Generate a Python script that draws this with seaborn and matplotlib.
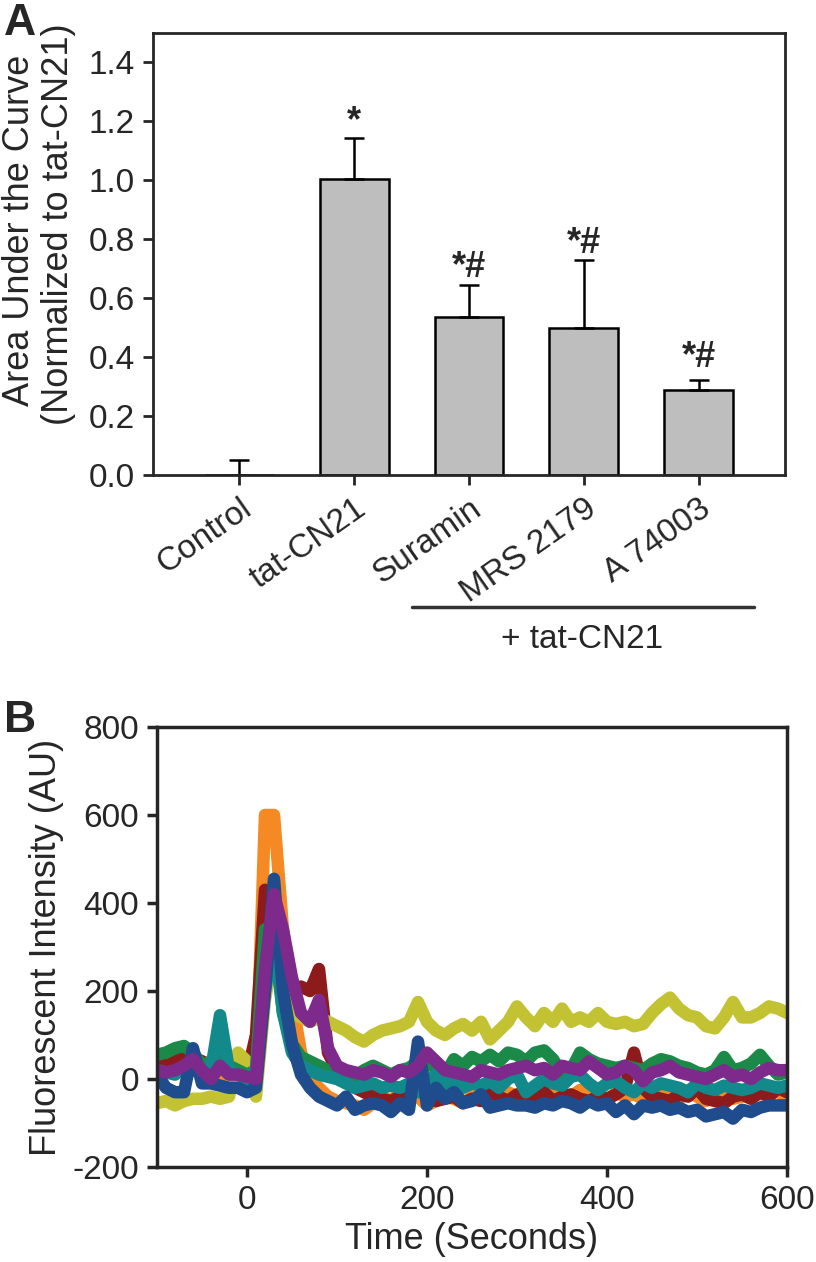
import numpy as np
import pandas as pd
import matplotlib
matplotlib.use('Agg')
import matplotlib.pyplot as plt
import seaborn as sns

# ---- Panel A data ----
categories = ['Control', 'tat-CN21', 'Suramin', 'MRS 2179', 'A 74003']
auc_mean = [0.0, 1.005, 0.536, 0.498, 0.289]
auc_err = [0.052, 0.138, 0.108, 0.232, 0.034]
auc_marks = ['', '*', '*#', '*#', '*#']
auc_mark_y = [0, 1.20, 0.705, 0.785, 0.40]

# ---- Panel B data ----
time_s = list(range(-100, 610, 10))
trace_orange = [30, 20, 30, 20, 30, 40, 20, 10, 0, -10, -20, 0, 600, 600, 340, 180, 60, 0, -20, -40,
                -50, -55, -60, -70, -55, -40, -50, -30, -45, -40, -60, -50, -40, -45, -55, -40, -20, -35, -40, -30,
                -40, -25, -40, -10, -30, -45, -40, -25, -40, -35, -50, -30, -40, -35, -45, -40, -30, -35, -45, -25,
                -40, -50, -35, -30, -45, -40, -30, -35, -25, -30, -40]
trace_red = [40, 30, 40, 60, 50, 40, 30, 50, 40, 20, 10, 100, 430, 380, 280, 200, 210, 200, 250, 60,
             20, 0, -20, -30, -40, -45, -50, -40, -30, -20, -40, -50, -45, -40, -55, -45, -50, -30, -40, -50,
             -35, -40, -45, -30, -50, -40, -35, -45, -50, -40, -45, -35, -20, 60, -20, -40, -45, -50, -35, -40,
             -20, -45, -50, -55, -40, -35, -45, -30, -40, -20, -30]
trace_yellow = [-55, -50, -60, -50, -45, -45, -40, -45, -40, 60, 40, -40, 180, 300, 200, 150, 140, 130, 140, 130,
                120, 110, 95, 85, 100, 110, 115, 120, 130, 175, 130, 110, 100, 115, 125, 110, 130, 90, 110, 130,
                165, 140, 120, 150, 130, 160, 130, 140, 130, 150, 130, 125, 130, 120, 125, 150, 170, 185, 160, 145,
                140, 120, 115, 140, 175, 140, 140, 150, 165, 160, 150]
trace_green = [55, 60, 70, 75, 60, 30, 40, 50, 30, 20, 10, 20, 340, 340, 150, 80, 50, 40, 30, 20,
               10, 15, 5, 20, 30, 20, 10, 20, 25, 40, 30, 35, 10, 45, 30, 50, 40, 55, 40, 60,
               55, 40, 60, 65, 45, 10, 20, 60, 45, 35, 30, 25, 30, 25, 20, 35, 45, 40, 30, 25,
               15, 10, 20, 50, 20, 25, 35, 55, 30, 10, 15]
trace_teal = [20, 15, 10, 30, 20, 15, 20, 145, 20, 10, 0, 20, 200, 320, 150, 60, 30, 20, 10, 5,
              0, -10, -20, -15, -10, -20, -15, -20, -10, -30, -5, 10, -15, 0, -20, -10, -15, -5, -20, 0,
              10, -30, -15, 0, -10, -15, 5, 10, -10, -25, -10, -5, -20, -30, -10, -20, -10, -15, -20, -30,
              -10, -20, -25, -15, -20, -25, -20, -10, -15, -20, -15]
trace_blue = [10, -20, -30, -30, 70, -10, -10, -15, -20, -20, -30, -20, 200, 455, 200, 80, 10, -20, -40, -50,
              -60, -40, -70, -60, -55, -60, -75, -55, -70, 85, -60, -20, -45, -30, -55, -50, -35, -65, -60, -55,
              -60, -60, -65, -55, -60, -50, -55, -65, -50, -60, -55, -75, -60, -80, -60, -65, -60, -70, -65, -75,
              -70, -85, -80, -75, -90, -70, -75, -65, -60, -60, -60]
trace_purple = [20, 15, 20, 30, 45, 20, 0, 30, 10, 10, 5, 0, 250, 420, 340, 230, 150, 130, 180, 70,
                30, 20, 15, 10, 20, 15, 5, 20, 15, 30, 60, 40, 20, 15, 10, 5, 20, 15, 10, 20,
                25, 30, 20, 25, 10, 30, 25, 20, 40, 25, 10, 15, 30, 20, -5, 15, 20, 30, 15, 10,
                5, 0, 10, 20, 5, 10, 0, 15, 25, 20, 20]

trace_names = ['orange', 'red', 'yellow', 'green', 'teal', 'blue', 'purple']
trace_colors = ['#F58A24', '#8E1B1B', '#C2C232', '#1B8A48', '#12898B', '#1F4C8C', '#7D2A8C']
traces = [trace_orange, trace_red, trace_yellow, trace_green, trace_teal, trace_blue, trace_purple]

sns.set_style('ticks')
plt.rcParams['font.family'] = ['Liberation Sans', 'DejaVu Sans']
plt.rcParams['axes.unicode_minus'] = False

fig = plt.figure(figsize=(8.16, 12.62), dpi=100)
W, H = 816, 1262
axA = fig.add_axes([153 / W, 1 - 475 / H, (785 - 153) / W, (475 - 33) / H])
axB = fig.add_axes([157 / W, 1 - 1167 / H, (787 - 157) / W, (1167 - 727) / H])

# ---- Panel A ----
sns.barplot(x=categories, y=auc_mean, color='#BEBEBE', saturation=1, edgecolor='black',
            linewidth=1.8, width=0.6, errorbar=None, ax=axA)
axA.errorbar(range(len(categories)), auc_mean, yerr=[np.zeros(len(categories)), auc_err],
             fmt='none', ecolor='black', elinewidth=1.8, capsize=7, capthick=1.8)
for i, (m, y) in enumerate(zip(auc_marks, auc_mark_y)):
    if m:
        axA.text(i, y, m, ha='center', va='center', fontsize=26, fontweight='bold')
axA.set_xlim(-0.75, 4.75)
axA.set_ylim(0, 1.5)
axA.set_yticks(np.arange(0, 1.41, 0.2))
axA.set_yticklabels([f'{v:.1f}' for v in np.arange(0, 1.41, 0.2)])
axA.set_xticks(range(len(categories)))
axA.set_xticklabels(categories, rotation=35, ha='right', rotation_mode='anchor')
axA.tick_params(direction='out', length=7, width=2, labelsize=24, pad=6)
for s in axA.spines.values():
    s.set_linewidth(2)
    s.set_visible(True)
axA.set_ylabel('')
# two-line y label, one text per line
fig.text(20 / W, 1 - 230 / H, 'Area Under the Curve', rotation=90,
         ha='center', va='center', fontsize=26)
fig.text(59 / W, 1 - 224 / H, '(Normalized to tat-CN21)', rotation=90,
         ha='center', va='center', fontsize=26)
axA.plot([1.5, 4.48], [-0.299, -0.299], color='#333333', lw=2.5, clip_on=False,
         transform=axA.get_xaxis_transform())
axA.text(2.98, -0.373, '+ tat-CN21', ha='center', va='center', fontsize=24,
         transform=axA.get_xaxis_transform())

# ---- Panel B ----
df = pd.DataFrame({
    'time': np.tile(time_s, len(traces)),
    'value': np.concatenate(traces),
    'trace': np.repeat(trace_names, len(time_s)),
})
sns.lineplot(data=df, x='time', y='value', hue='trace', hue_order=trace_names,
             palette=dict(zip(trace_names, trace_colors)), linewidth=9, estimator=None,
             sort=False, legend=False, ax=axB)
axB.set_xlim(-100, 600)
axB.set_ylim(-200, 800)
axB.set_xticks([0, 200, 400, 600])
axB.set_yticks(range(-200, 801, 200))
axB.tick_params(direction='out', length=7, width=2.5, labelsize=24, pad=6)
for s in axB.spines.values():
    s.set_linewidth(2.5)
    s.set_visible(True)
axB.set_xlabel('Time (Seconds)', fontsize=26, labelpad=4)
axB.set_ylabel('Fluorescent Intensity (AU)', fontsize=26, labelpad=6)

fig.text(4 / W, 1 - 35 / H, 'A', fontsize=32, fontweight='bold', ha='left', va='baseline')
fig.text(4 / W, 1 - 732 / H, 'B', fontsize=32, fontweight='bold', ha='left', va='baseline')

fig.savefig('out.png', dpi=100)
